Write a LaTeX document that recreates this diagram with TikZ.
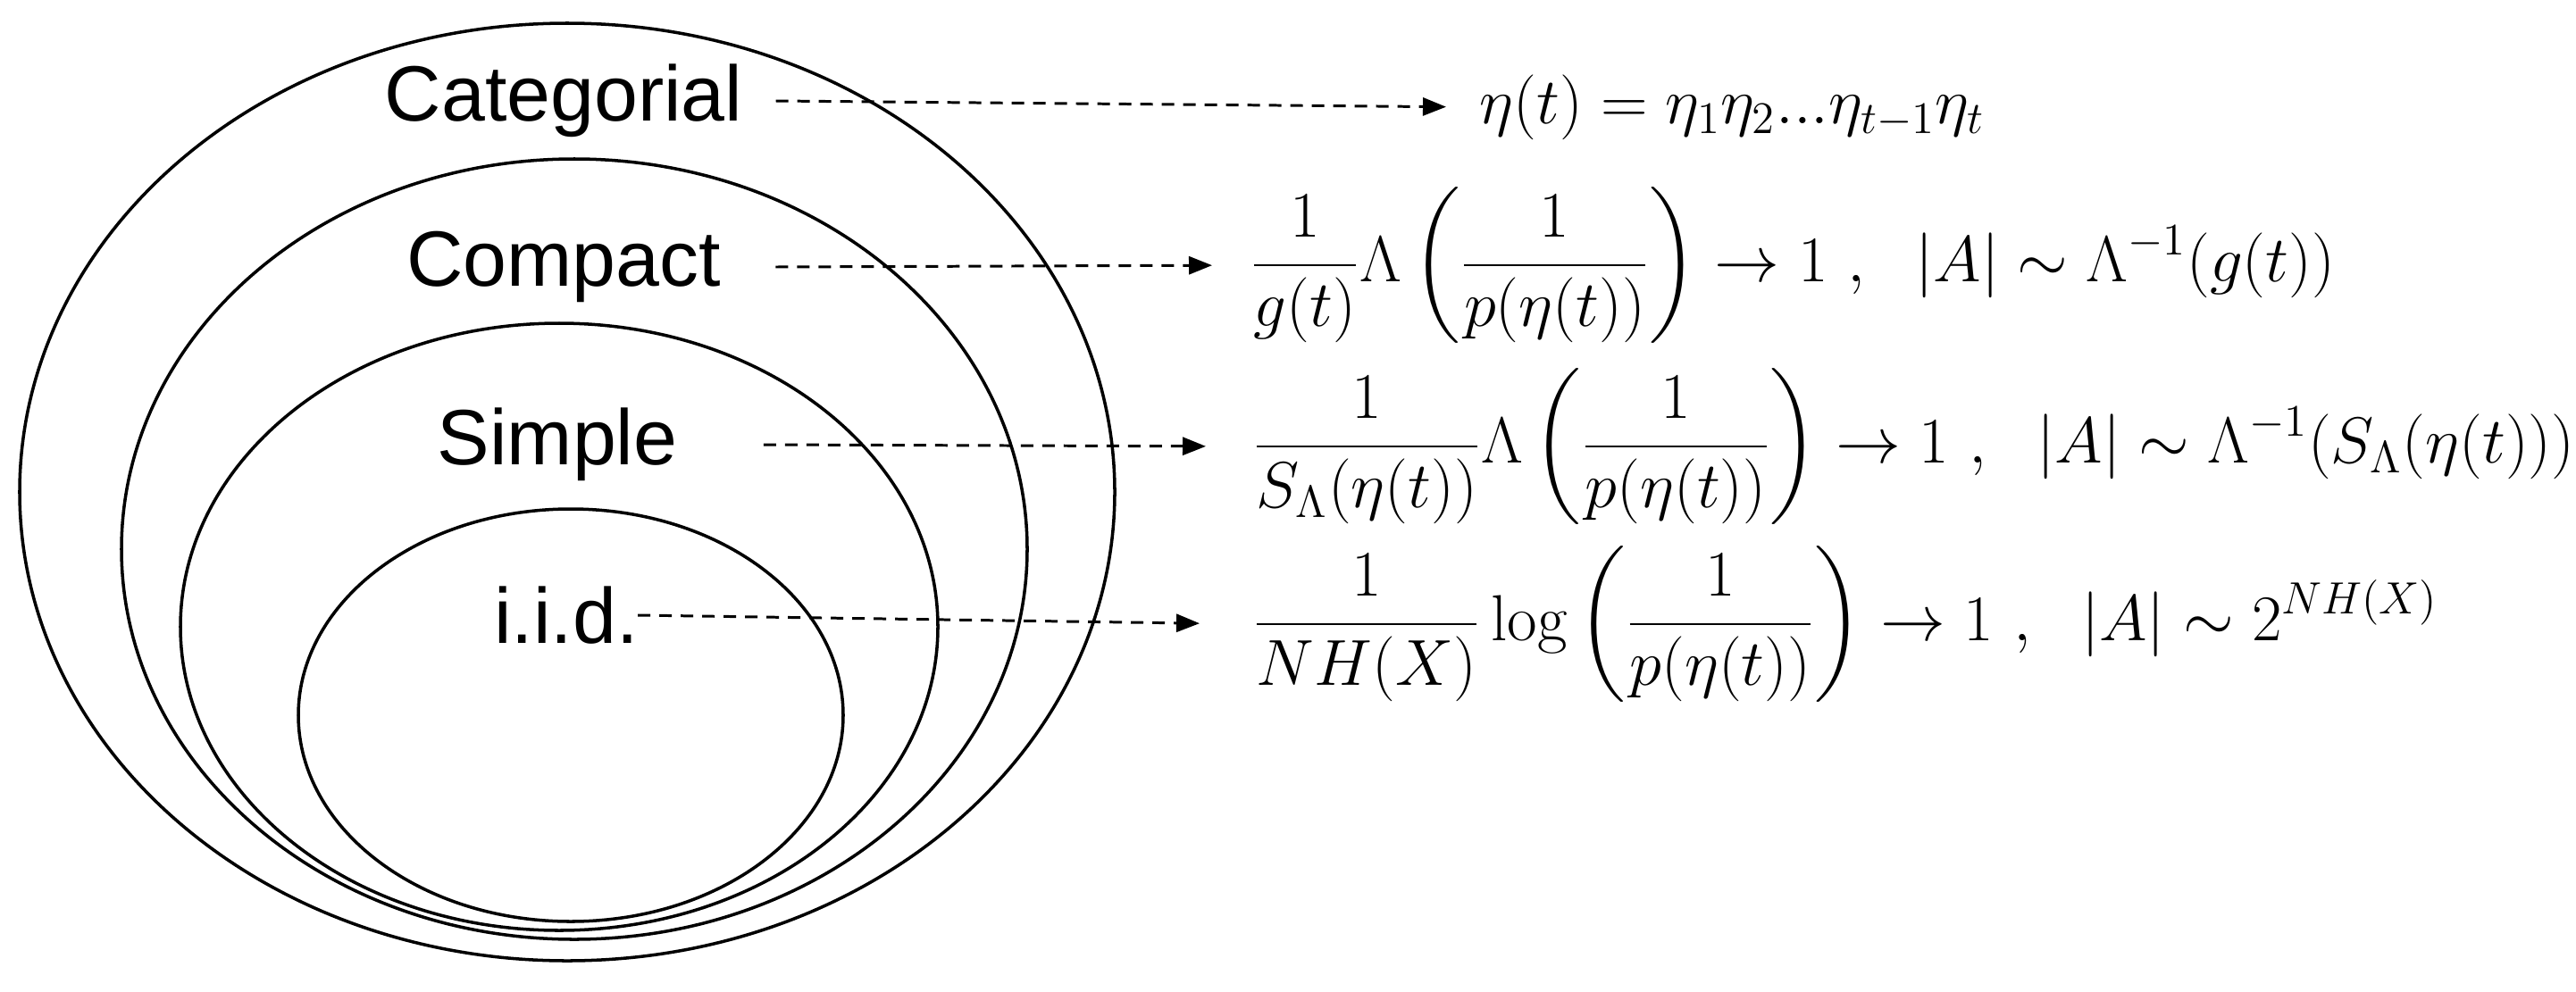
\documentclass[tikz,border=0pt]{standalone}
\usepackage{fontspec}
\usepackage{amsmath}
\usetikzlibrary{arrows.meta}
\newfontfamily\labelfont{Liberation Sans}
\DeclareMathSizes{20.74}{20.74}{14.4}{10}

\def\flow#1#2#3#4{%
  \draw[dash pattern=on 0.14cm off 0.1cm,line width=0.85pt,
        -{Triangle[length=0.26cm,width=0.2cm]},shorten >=#4]
    ([xshift=#3]#1.east) -- (#2.west);
}

\begin{document}
\begin{tikzpicture}[line width=1pt]
\useasboundingbox (0,0) rectangle (28.84,11.10);
\draw (6.35,5.59) ellipse (6.13 and 5.25);
\draw (6.43,4.95) ellipse (5.07 and 4.37);
\draw (6.26,4.08) ellipse (4.24 and 3.40);
\draw (6.39,3.09) ellipse (3.05 and 2.31);
\begin{scope}[every node/.style={font=\labelfont\fontsize{25}{30}\selectfont}]
\draw (6.31,9.97) node (cat) {Categorial};
\draw (6.31,8.11) node (comp) {Compact};
\draw (6.24,6.12) node (simp) {Simple};
\draw (6.34,4.21) node (iid) {i.i.d.};
\end{scope}
\begin{scope}[every node/.style={anchor=west,inner sep=0pt,font=\fontsize{20.74}{25}\selectfont}]
\draw (16.55,9.90) node (fcat) {$\eta(t)=\eta_1\eta_2...\eta_{t-1}\eta_t$};
\draw (13.98,8.13) node (fcomp) {$\displaystyle \frac{1}{g(t)}\Lambda\left(\frac{1}{p(\eta(t))}\right)\to 1\ ,\ \ |A|\sim\Lambda^{-1}(g(t))$};
\draw (14.01,6.10) node (fsimp) {$\displaystyle \frac{1}{S_\Lambda(\eta(t))}\Lambda\left(\frac{1}{p(\eta(t))}\right)\to 1\ ,\ \ |A|\sim\Lambda^{-1}(S_\Lambda(\eta(t)))$};
\draw (14.01,4.11) node (fiid) {$\displaystyle \frac{1}{NH(X)}\log\left(\frac{1}{p(\eta(t))}\right)\to 1\ ,\ \ |A|\sim 2^{NH(X)}$};
\end{scope}
\flow{cat}{fcat}{0.24cm}{0.36cm}
\flow{comp}{fcomp}{0.48cm}{0.41cm}
\flow{simp}{fsimp}{0.83cm}{0.51cm}
\flow{iid}{fiid}{-0.14cm}{0.58cm}
\end{tikzpicture}
\end{document}
